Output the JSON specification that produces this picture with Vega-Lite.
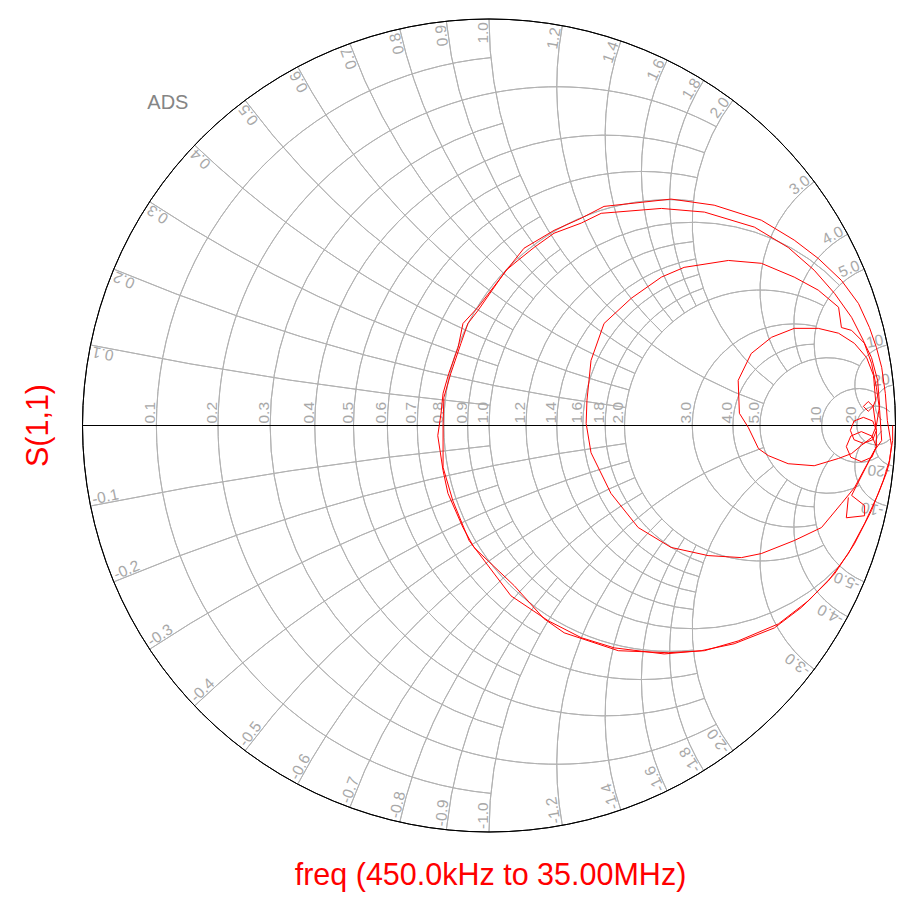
{
  "$schema": "https://vega.github.io/schema/vega-lite/v6.json",
  "width": 917,
  "height": 907,
  "autosize": "none",
  "padding": 0,
  "background": "white",
  "config": {"view": {"stroke": null}},
  "datasets": {
    "rgrid": [
      {"gx": 0.0909, "gy": 0, "rho": 0.9091, "t1": 95.44, "t2": 264.56},
      {"gx": 0.1667, "gy": 0, "rho": 0.8333, "t1": 61.93, "t2": 298.07},
      {"gx": 0.2308, "gy": 0, "rho": 0.7692, "t1": 104.86, "t2": 255.14},
      {"gx": 0.2857, "gy": 0, "rho": 0.7143, "t1": 69.98, "t2": 290.02},
      {"gx": 0.3333, "gy": 0, "rho": 0.6667, "t1": 112.62, "t2": 247.38},
      {"gx": 0.375, "gy": 0, "rho": 0.625, "t1": 77.32, "t2": 282.68},
      {"gx": 0.4118, "gy": 0, "rho": 0.5882, "t1": 119.05, "t2": 240.95},
      {"gx": 0.4444, "gy": 0, "rho": 0.5556, "t1": 83.97, "t2": 276.03},
      {"gx": 0.4737, "gy": 0, "rho": 0.5263, "t1": 124.49, "t2": 235.51},
      {"gx": 0.5, "gy": 0, "rho": 0.5, "t1": 43.6, "t2": 316.4},
      {"gx": 0.5455, "gy": 0, "rho": 0.4545, "t1": 95.44, "t2": 264.56},
      {"gx": 0.5833, "gy": 0, "rho": 0.4167, "t1": 100.39, "t2": 259.61},
      {"gx": 0.6154, "gy": 0, "rho": 0.3846, "t1": 104.86, "t2": 255.14},
      {"gx": 0.6429, "gy": 0, "rho": 0.3571, "t1": 108.92, "t2": 251.08},
      {"gx": 0.6667, "gy": 0, "rho": 0.3333, "t1": 61.93, "t2": 298.07},
      {"gx": 0.75, "gy": 0, "rho": 0.25, "t1": 77.32, "t2": 282.68},
      {"gx": 0.8, "gy": 0, "rho": 0.2, "t1": 90, "t2": 270},
      {"gx": 0.8333, "gy": 0, "rho": 0.1667, "t1": 61.93, "t2": 298.07},
      {"gx": 0.9091, "gy": 0, "rho": 0.0909, "t1": 57.61, "t2": 302.39},
      {"gx": 0.9524, "gy": 0, "rho": 0.0476, "t1": 45.55, "t2": 314.45},
      {"gx": 1, "gy": 10, "rho": 10, "t1": -101.42, "t2": -95.72},
      {"gx": 1, "gy": 5, "rho": 5, "t1": -112.62, "t2": -97.63},
      {"gx": 1, "gy": 3.3333, "rho": 3.3333, "t1": -123.4, "t2": -107.06},
      {"gx": 1, "gy": 2.5, "rho": 2.5, "t1": -133.6, "t2": -105.19},
      {"gx": 1, "gy": 2, "rho": 2, "t1": -143.13, "t2": -118.07},
      {"gx": 1, "gy": 1.6667, "rho": 1.6667, "t1": -151.93, "t2": -112.62},
      {"gx": 1, "gy": 1.4286, "rho": 1.4286, "t1": -159.97, "t2": -128.58},
      {"gx": 1, "gy": 1.25, "rho": 1.25, "t1": -167.32, "t2": -119.86},
      {"gx": 1, "gy": 1.1111, "rho": 1.1111, "t1": -173.97, "t2": -138.46},
      {"gx": 1, "gy": 1, "rho": 1, "t1": -180, "t2": -108.92},
      {"gx": 1, "gy": 0.8333, "rho": 0.8333, "t1": -190.39, "t2": -133.6},
      {"gx": 1, "gy": 0.7143, "rho": 0.7143, "t1": -198.92, "t2": -140.05},
      {"gx": 1, "gy": 0.625, "rho": 0.625, "t1": -205.97, "t2": -146.14},
      {"gx": 1, "gy": 0.5556, "rho": 0.5556, "t1": -211.91, "t2": -151.93},
      {"gx": 1, "gy": 0.5, "rho": 0.5, "t1": -216.87, "t2": -126.87},
      {"gx": 1, "gy": 0.3333, "rho": 0.3333, "t1": -233.13, "t2": -143.13},
      {"gx": 1, "gy": 0.25, "rho": 0.25, "t1": -241.93, "t2": -157.38},
      {"gx": 1, "gy": 0.2, "rho": 0.2, "t1": -247.38, "t2": -138.88},
      {"gx": 1, "gy": 0.1, "rho": 0.1, "t1": -258.58, "t2": -140.92},
      {"gx": 1, "gy": 0.05, "rho": 0.05, "t1": -264.27, "t2": -132.82},
      {"gx": 1, "gy": -10, "rho": 10, "t1": 101.42, "t2": 95.72},
      {"gx": 1, "gy": -5, "rho": 5, "t1": 112.62, "t2": 97.63},
      {"gx": 1, "gy": -3.3333, "rho": 3.3333, "t1": 123.4, "t2": 107.06},
      {"gx": 1, "gy": -2.5, "rho": 2.5, "t1": 133.6, "t2": 105.19},
      {"gx": 1, "gy": -2, "rho": 2, "t1": 143.13, "t2": 118.07},
      {"gx": 1, "gy": -1.6667, "rho": 1.6667, "t1": 151.93, "t2": 112.62},
      {"gx": 1, "gy": -1.4286, "rho": 1.4286, "t1": 159.97, "t2": 128.58},
      {"gx": 1, "gy": -1.25, "rho": 1.25, "t1": 167.32, "t2": 119.86},
      {"gx": 1, "gy": -1.1111, "rho": 1.1111, "t1": 173.97, "t2": 138.46},
      {"gx": 1, "gy": -1, "rho": 1, "t1": 180, "t2": 108.92},
      {"gx": 1, "gy": -0.8333, "rho": 0.8333, "t1": 190.39, "t2": 133.6},
      {"gx": 1, "gy": -0.7143, "rho": 0.7143, "t1": 198.92, "t2": 140.05},
      {"gx": 1, "gy": -0.625, "rho": 0.625, "t1": 205.97, "t2": 146.14},
      {"gx": 1, "gy": -0.5556, "rho": 0.5556, "t1": 211.91, "t2": 151.93},
      {"gx": 1, "gy": -0.5, "rho": 0.5, "t1": 216.87, "t2": 126.87},
      {"gx": 1, "gy": -0.3333, "rho": 0.3333, "t1": 233.13, "t2": 143.13},
      {"gx": 1, "gy": -0.25, "rho": 0.25, "t1": 241.93, "t2": 157.38},
      {"gx": 1, "gy": -0.2, "rho": 0.2, "t1": 247.38, "t2": 138.88},
      {"gx": 1, "gy": -0.1, "rho": 0.1, "t1": 258.58, "t2": 140.92},
      {"gx": 1, "gy": -0.05, "rho": 0.05, "t1": 264.27, "t2": 132.82}
    ],
    "rim": [{"gx": 0, "gy": 0, "rho": 1, "t1": 0, "t2": 360}],
    "axisline": [{"gx": -1, "gx2": 1, "gy": 0}],
    "rlabels": [
      {"gx": -0.8182, "gy": 0, "label": "0.1"},
      {"gx": -0.6667, "gy": 0, "label": "0.2"},
      {"gx": -0.5385, "gy": 0, "label": "0.3"},
      {"gx": -0.4286, "gy": 0, "label": "0.4"},
      {"gx": -0.3333, "gy": 0, "label": "0.5"},
      {"gx": -0.25, "gy": 0, "label": "0.6"},
      {"gx": -0.1765, "gy": 0, "label": "0.7"},
      {"gx": -0.1111, "gy": 0, "label": "0.8"},
      {"gx": -0.0526, "gy": 0, "label": "0.9"},
      {"gx": 0, "gy": 0, "label": "1.0"},
      {"gx": 0.0909, "gy": 0, "label": "1.2"},
      {"gx": 0.1667, "gy": 0, "label": "1.4"},
      {"gx": 0.2308, "gy": 0, "label": "1.6"},
      {"gx": 0.2857, "gy": 0, "label": "1.8"},
      {"gx": 0.3333, "gy": 0, "label": "2.0"},
      {"gx": 0.5, "gy": 0, "label": "3.0"},
      {"gx": 0.6, "gy": 0, "label": "4.0"},
      {"gx": 0.6667, "gy": 0, "label": "5.0"},
      {"gx": 0.8182, "gy": 0, "label": "10"},
      {"gx": 0.9048, "gy": 0, "label": "20"}
    ],
    "xpos": [
      {"gx": -0.9802, "gy": 0.198, "phi": 168.58, "label": "0.1"},
      {"gx": -0.9231, "gy": 0.3846, "phi": 157.38, "label": "0.2"},
      {"gx": -0.8349, "gy": 0.5505, "phi": 146.6, "label": "0.3"},
      {"gx": -0.7241, "gy": 0.6897, "phi": 136.4, "label": "0.4"},
      {"gx": -0.6, "gy": 0.8, "phi": 126.87, "label": "0.5"},
      {"gx": -0.4706, "gy": 0.8824, "phi": 118.07, "label": "0.6"},
      {"gx": -0.3423, "gy": 0.9396, "phi": 110.03, "label": "0.7"},
      {"gx": -0.2195, "gy": 0.9756, "phi": 102.68, "label": "0.8"},
      {"gx": -0.105, "gy": 0.9945, "phi": 96.03, "label": "0.9"},
      {"gx": 0, "gy": 1, "phi": 90, "label": "1.0"},
      {"gx": 0.1803, "gy": 0.9836, "phi": 79.61, "label": "1.2"},
      {"gx": 0.3243, "gy": 0.9459, "phi": 71.08, "label": "1.4"},
      {"gx": 0.4382, "gy": 0.8989, "phi": 64.01, "label": "1.6"},
      {"gx": 0.5283, "gy": 0.8491, "phi": 58.09, "label": "1.8"},
      {"gx": 0.6, "gy": 0.8, "phi": 53.13, "label": "2.0"},
      {"gx": 0.8, "gy": 0.6, "phi": 36.87, "label": "3.0"},
      {"gx": 0.8824, "gy": 0.4706, "phi": 28.07, "label": "4.0"},
      {"gx": 0.9231, "gy": 0.3846, "phi": 22.62, "label": "5.0"},
      {"gx": 0.9802, "gy": 0.198, "phi": 11.42, "label": "10"},
      {"gx": 0.995, "gy": 0.0998, "phi": 5.72, "label": "20"}
    ],
    "xneg": [
      {"gx": -0.9802, "gy": -0.198, "phi": -168.58, "label": "-0.1"},
      {"gx": -0.9231, "gy": -0.3846, "phi": -157.38, "label": "-0.2"},
      {"gx": -0.8349, "gy": -0.5505, "phi": -146.6, "label": "-0.3"},
      {"gx": -0.7241, "gy": -0.6897, "phi": -136.4, "label": "-0.4"},
      {"gx": -0.6, "gy": -0.8, "phi": -126.87, "label": "-0.5"},
      {"gx": -0.4706, "gy": -0.8824, "phi": -118.07, "label": "-0.6"},
      {"gx": -0.3423, "gy": -0.9396, "phi": -110.03, "label": "-0.7"},
      {"gx": -0.2195, "gy": -0.9756, "phi": -102.68, "label": "-0.8"},
      {"gx": -0.105, "gy": -0.9945, "phi": -96.03, "label": "-0.9"},
      {"gx": 0, "gy": -1, "phi": -90, "label": "-1.0"},
      {"gx": 0.1803, "gy": -0.9836, "phi": -79.61, "label": "-1.2"},
      {"gx": 0.3243, "gy": -0.9459, "phi": -71.08, "label": "-1.4"},
      {"gx": 0.4382, "gy": -0.8989, "phi": -64.01, "label": "-1.6"},
      {"gx": 0.5283, "gy": -0.8491, "phi": -58.09, "label": "-1.8"},
      {"gx": 0.6, "gy": -0.8, "phi": -53.13, "label": "-2.0"},
      {"gx": 0.8, "gy": -0.6, "phi": -36.87, "label": "-3.0"},
      {"gx": 0.8824, "gy": -0.4706, "phi": -28.07, "label": "-4.0"},
      {"gx": 0.9231, "gy": -0.3846, "phi": -22.62, "label": "-5.0"},
      {"gx": 0.9802, "gy": -0.198, "phi": -11.42, "label": "-10"},
      {"gx": 0.995, "gy": -0.0998, "phi": -5.72, "label": "-20"}
    ],
    "watermark": [{"gx": -0.79, "gy": 0.793, "label": "ADS"}],
    "s11": [
      {"i": 1, "gx": 0.993, "gy": 0.0}, {"i": 2, "gx": 0.993, "gy": -0.037}, {"i": 3, "gx": 0.985, "gy": -0.086},
      {"i": 4, "gx": 0.97, "gy": -0.135}, {"i": 5, "gx": 0.941, "gy": -0.209}, {"i": 6, "gx": 0.899, "gy": -0.291},
      {"i": 7, "gx": 0.85, "gy": -0.365}, {"i": 8, "gx": 0.786, "gy": -0.431}, {"i": 9, "gx": 0.712, "gy": -0.488},
      {"i": 10, "gx": 0.613, "gy": -0.53}, {"i": 11, "gx": 0.53, "gy": -0.554}, {"i": 12, "gx": 0.441, "gy": -0.559},
      {"i": 13, "gx": 0.318, "gy": -0.554}, {"i": 14, "gx": 0.185, "gy": -0.51}, {"i": 15, "gx": 0.135, "gy": -0.475},
      {"i": 16, "gx": 0.062, "gy": -0.394}, {"i": 17, "gx": -0.037, "gy": -0.3}, {"i": 18, "gx": -0.064, "gy": -0.251},
      {"i": 19, "gx": -0.101, "gy": -0.167}, {"i": 20, "gx": -0.113, "gy": -0.111}, {"i": 21, "gx": -0.126, "gy": -0.025},
      {"i": 22, "gx": -0.118, "gy": 0.03}, {"i": 23, "gx": -0.113, "gy": 0.079}, {"i": 24, "gx": -0.099, "gy": 0.128},
      {"i": 25, "gx": -0.076, "gy": 0.192}, {"i": 26, "gx": -0.064, "gy": 0.251}, {"i": 27, "gx": -0.027, "gy": 0.291},
      {"i": 28, "gx": 0.047, "gy": 0.387}, {"i": 29, "gx": 0.086, "gy": 0.436}, {"i": 30, "gx": 0.16, "gy": 0.48},
      {"i": 31, "gx": 0.227, "gy": 0.51}, {"i": 32, "gx": 0.283, "gy": 0.539}, {"i": 33, "gx": 0.448, "gy": 0.557},
      {"i": 34, "gx": 0.554, "gy": 0.542}, {"i": 35, "gx": 0.67, "gy": 0.505}, {"i": 36, "gx": 0.751, "gy": 0.456},
      {"i": 37, "gx": 0.81, "gy": 0.411}, {"i": 38, "gx": 0.867, "gy": 0.357}, {"i": 39, "gx": 0.909, "gy": 0.3},
      {"i": 40, "gx": 0.936, "gy": 0.241}, {"i": 41, "gx": 0.953, "gy": 0.192}, {"i": 42, "gx": 0.966, "gy": 0.143},
      {"i": 43, "gx": 0.975, "gy": 0.079}, {"i": 44, "gx": 0.98, "gy": 0.012}, {"i": 45, "gx": 0.99, "gy": -0.049},
      {"i": 46, "gx": 0.985, "gy": -0.091}, {"i": 47, "gx": 0.978, "gy": -0.116}, {"i": 48, "gx": 0.958, "gy": -0.167},
      {"i": 49, "gx": 0.924, "gy": -0.241}, {"i": 50, "gx": 0.884, "gy": -0.315}, {"i": 51, "gx": 0.835, "gy": -0.382},
      {"i": 52, "gx": 0.768, "gy": -0.448}, {"i": 53, "gx": 0.702, "gy": -0.498}, {"i": 54, "gx": 0.603, "gy": -0.537},
      {"i": 55, "gx": 0.522, "gy": -0.554}, {"i": 56, "gx": 0.431, "gy": -0.562}, {"i": 57, "gx": 0.308, "gy": -0.547},
      {"i": 58, "gx": 0.227, "gy": -0.522}, {"i": 59, "gx": 0.145, "gy": -0.48}, {"i": 60, "gx": 0.054, "gy": -0.419},
      {"i": 61, "gx": -0.049, "gy": -0.283}, {"i": 62, "gx": -0.089, "gy": -0.185}, {"i": 63, "gx": -0.113, "gy": -0.103},
      {"i": 64, "gx": -0.113, "gy": 0.005}, {"i": 65, "gx": -0.111, "gy": 0.069}, {"i": 66, "gx": -0.094, "gy": 0.128},
      {"i": 67, "gx": -0.069, "gy": 0.202}, {"i": 68, "gx": -0.052, "gy": 0.251}, {"i": 69, "gx": -0.027, "gy": 0.283},
      {"i": 70, "gx": 0.042, "gy": 0.382}, {"i": 71, "gx": 0.071, "gy": 0.406}, {"i": 72, "gx": 0.111, "gy": 0.438},
      {"i": 73, "gx": 0.16, "gy": 0.473}, {"i": 74, "gx": 0.227, "gy": 0.498}, {"i": 75, "gx": 0.276, "gy": 0.522},
      {"i": 76, "gx": 0.424, "gy": 0.534}, {"i": 77, "gx": 0.53, "gy": 0.525}, {"i": 78, "gx": 0.653, "gy": 0.488},
      {"i": 79, "gx": 0.736, "gy": 0.438}, {"i": 80, "gx": 0.8, "gy": 0.382}, {"i": 81, "gx": 0.85, "gy": 0.325},
      {"i": 82, "gx": 0.892, "gy": 0.266}, {"i": 83, "gx": 0.921, "gy": 0.209}, {"i": 84, "gx": 0.941, "gy": 0.153},
      {"i": 85, "gx": 0.953, "gy": 0.094}, {"i": 86, "gx": 0.961, "gy": 0.037}, {"i": 87, "gx": 0.966, "gy": -0.037},
      {"i": 88, "gx": 0.948, "gy": -0.062}, {"i": 89, "gx": 0.899, "gy": -0.153}, {"i": 90, "gx": 0.867, "gy": -0.192},
      {"i": 91, "gx": 0.818, "gy": -0.251}, {"i": 92, "gx": 0.751, "gy": -0.283}, {"i": 93, "gx": 0.67, "gy": -0.315},
      {"i": 94, "gx": 0.621, "gy": -0.325}, {"i": 95, "gx": 0.539, "gy": -0.32}, {"i": 96, "gx": 0.448, "gy": -0.3},
      {"i": 97, "gx": 0.367, "gy": -0.251}, {"i": 98, "gx": 0.3, "gy": -0.167}, {"i": 99, "gx": 0.251, "gy": -0.067},
      {"i": 100, "gx": 0.239, "gy": 0.005}, {"i": 101, "gx": 0.241, "gy": 0.062}, {"i": 102, "gx": 0.251, "gy": 0.16},
      {"i": 103, "gx": 0.283, "gy": 0.251}, {"i": 104, "gx": 0.35, "gy": 0.313}, {"i": 105, "gx": 0.424, "gy": 0.365},
      {"i": 106, "gx": 0.48, "gy": 0.389}, {"i": 107, "gx": 0.589, "gy": 0.406}, {"i": 108, "gx": 0.67, "gy": 0.399},
      {"i": 109, "gx": 0.751, "gy": 0.365}, {"i": 110, "gx": 0.81, "gy": 0.333}, {"i": 111, "gx": 0.86, "gy": 0.291},
      {"i": 112, "gx": 0.867, "gy": 0.241}, {"i": 113, "gx": 0.892, "gy": 0.234}, {"i": 114, "gx": 0.924, "gy": 0.202},
      {"i": 115, "gx": 0.941, "gy": 0.167}, {"i": 116, "gx": 0.956, "gy": 0.111}, {"i": 117, "gx": 0.961, "gy": 0.049},
      {"i": 118, "gx": 0.953, "gy": 0.0}, {"i": 119, "gx": 0.941, "gy": -0.03}, {"i": 120, "gx": 0.916, "gy": -0.049},
      {"i": 121, "gx": 0.892, "gy": -0.069}, {"i": 122, "gx": 0.86, "gy": -0.081}, {"i": 123, "gx": 0.8, "gy": -0.099},
      {"i": 124, "gx": 0.736, "gy": -0.094}, {"i": 125, "gx": 0.687, "gy": -0.074}, {"i": 126, "gx": 0.663, "gy": -0.057},
      {"i": 127, "gx": 0.638, "gy": -0.005}, {"i": 128, "gx": 0.616, "gy": 0.03}, {"i": 129, "gx": 0.613, "gy": 0.111},
      {"i": 130, "gx": 0.645, "gy": 0.177}, {"i": 131, "gx": 0.695, "gy": 0.217}, {"i": 132, "gx": 0.751, "gy": 0.239},
      {"i": 133, "gx": 0.81, "gy": 0.239}, {"i": 134, "gx": 0.86, "gy": 0.227}, {"i": 135, "gx": 0.899, "gy": 0.202},
      {"i": 136, "gx": 0.929, "gy": 0.167}, {"i": 137, "gx": 0.946, "gy": 0.123}, {"i": 138, "gx": 0.951, "gy": 0.062},
      {"i": 139, "gx": 0.945, "gy": 0.047}, {"i": 140, "gx": 0.933, "gy": 0.035}, {"i": 141, "gx": 0.921, "gy": 0.047},
      {"i": 142, "gx": 0.933, "gy": 0.059}, {"i": 143, "gx": 0.945, "gy": 0.047}, {"i": 144, "gx": 0.953, "gy": -0.012},
      {"i": 145, "gx": 0.944, "gy": -0.035}, {"i": 146, "gx": 0.921, "gy": -0.044}, {"i": 147, "gx": 0.898, "gy": -0.035},
      {"i": 148, "gx": 0.889, "gy": -0.012}, {"i": 149, "gx": 0.898, "gy": 0.011}, {"i": 150, "gx": 0.921, "gy": 0.02},
      {"i": 151, "gx": 0.944, "gy": 0.011}, {"i": 152, "gx": 0.953, "gy": -0.012}, {"i": 153, "gx": 0.953, "gy": -0.052},
      {"i": 154, "gx": 0.942, "gy": -0.078}, {"i": 155, "gx": 0.916, "gy": -0.089}, {"i": 156, "gx": 0.89, "gy": -0.078},
      {"i": 157, "gx": 0.879, "gy": -0.052}, {"i": 158, "gx": 0.89, "gy": -0.026}, {"i": 159, "gx": 0.916, "gy": -0.015},
      {"i": 160, "gx": 0.942, "gy": -0.026}, {"i": 161, "gx": 0.953, "gy": -0.052}, {"i": 162, "gx": 0.892, "gy": -0.172},
      {"i": 163, "gx": 0.924, "gy": -0.197}, {"i": 164, "gx": 0.924, "gy": -0.222}, {"i": 165, "gx": 0.879, "gy": -0.227},
      {"i": 166, "gx": 0.884, "gy": -0.177}
    ]
  },
  "encoding": {
    "x": {
      "field": "gx", "type": "quantitative",
      "scale": {"domain": [-1, 1], "range": [82.5, 895.5], "zero": false, "nice": false},
      "title": "freq (450.0kHz to 35.00MHz)",
      "axis": {"labels": false, "ticks": false, "domain": false, "grid": false,
        "titleColor": "#ff0000", "titleFont": "Liberation Sans", "titleFontSize": 30.5, "titleFontWeight": "normal",
        "titleX": 490, "titleY": -32, "titleAlign": "center", "titleBaseline": "middle", "titleAnchor": null}
    },
    "y": {
      "field": "gy", "type": "quantitative",
      "scale": {"domain": [-1, 1], "range": [832, 19], "zero": false, "nice": false},
      "title": "S(1,1)",
      "axis": {"labels": false, "ticks": false, "domain": false, "grid": false,
        "titleColor": "#ff0000", "titleFont": "Liberation Sans", "titleFontSize": 30.5, "titleFontWeight": "normal",
        "titleX": 38, "titleY": 425, "titleAngle": -90, "titleAlign": "center", "titleBaseline": "middle", "titleAnchor": null}
    }
  },
  "layer": [
    {
      "data": {"name": "rgrid"},
      "mark": {"type": "arc", "filled": false, "color": "#b2b2b2", "strokeWidth": 1},
      "encoding": {
        "theta": {"field": "t1", "type": "quantitative", "stack": null, "scale": {"domain": [0, 360], "range": [1.5707963, -4.712389]}},
        "theta2": {"field": "t2"},
        "radius": {"field": "rho", "type": "quantitative", "scale": {"type": "linear", "domain": [0, 1], "range": [0, 406.5], "zero": true}},
        "radius2": {"field": "rho"}
      }
    },
    {
      "data": {"name": "rim"},
      "mark": {"type": "arc", "filled": false, "color": "#000000", "strokeWidth": 1},
      "encoding": {
        "theta": {"field": "t1", "type": "quantitative", "stack": null, "scale": {"domain": [0, 360], "range": [1.5707963, -4.712389]}},
        "theta2": {"field": "t2"},
        "radius": {"field": "rho", "type": "quantitative", "scale": {"type": "linear", "domain": [0, 1], "range": [0, 406.5], "zero": true}},
        "radius2": {"field": "rho"}
      }
    },
    {
      "data": {"name": "axisline"},
      "mark": {"type": "rule", "color": "#000000", "strokeWidth": 1},
      "encoding": {"x2": {"field": "gx2"}}
    },
    {
      "data": {"name": "rlabels"},
      "mark": {"type": "text", "angle": -90, "align": "left", "baseline": "alphabetic", "dx": 2, "dy": -1,
        "font": "Liberation Sans Narrow, Liberation Sans", "fontSize": 15.5, "color": "#a8a8a8"},
      "encoding": {"text": {"field": "label"}}
    },
    {
      "data": {"name": "xpos"},
      "mark": {"type": "text", "align": "right", "baseline": "alphabetic", "dx": -3, "dy": -1,
        "font": "Liberation Sans Narrow, Liberation Sans", "fontSize": 15.5, "color": "#a8a8a8"},
      "encoding": {
        "text": {"field": "label"},
        "angle": {"field": "phi", "type": "quantitative", "legend": null, "scale": {"domain": [0, 180], "range": [0, -180]}}
      }
    },
    {
      "data": {"name": "xneg"},
      "mark": {"type": "text", "align": "left", "baseline": "alphabetic", "dx": 3, "dy": -1,
        "font": "Liberation Sans Narrow, Liberation Sans", "fontSize": 15.5, "color": "#a8a8a8"},
      "encoding": {
        "text": {"field": "label"},
        "angle": {"field": "phi", "type": "quantitative", "legend": null, "scale": {"domain": [-180, 0], "range": [360, 180]}}
      }
    },
    {
      "data": {"name": "watermark"},
      "mark": {"type": "text", "align": "center", "baseline": "middle", "font": "Liberation Sans", "fontSize": 20, "color": "#858585"},
      "encoding": {"text": {"field": "label"}}
    },
    {
      "data": {"name": "s11"},
      "mark": {"type": "line", "color": "#ff0000", "strokeWidth": 1},
      "encoding": {"order": {"field": "i", "type": "quantitative"}}
    }
  ],
  "resolve": {"scale": {"angle": "independent"}}
}
